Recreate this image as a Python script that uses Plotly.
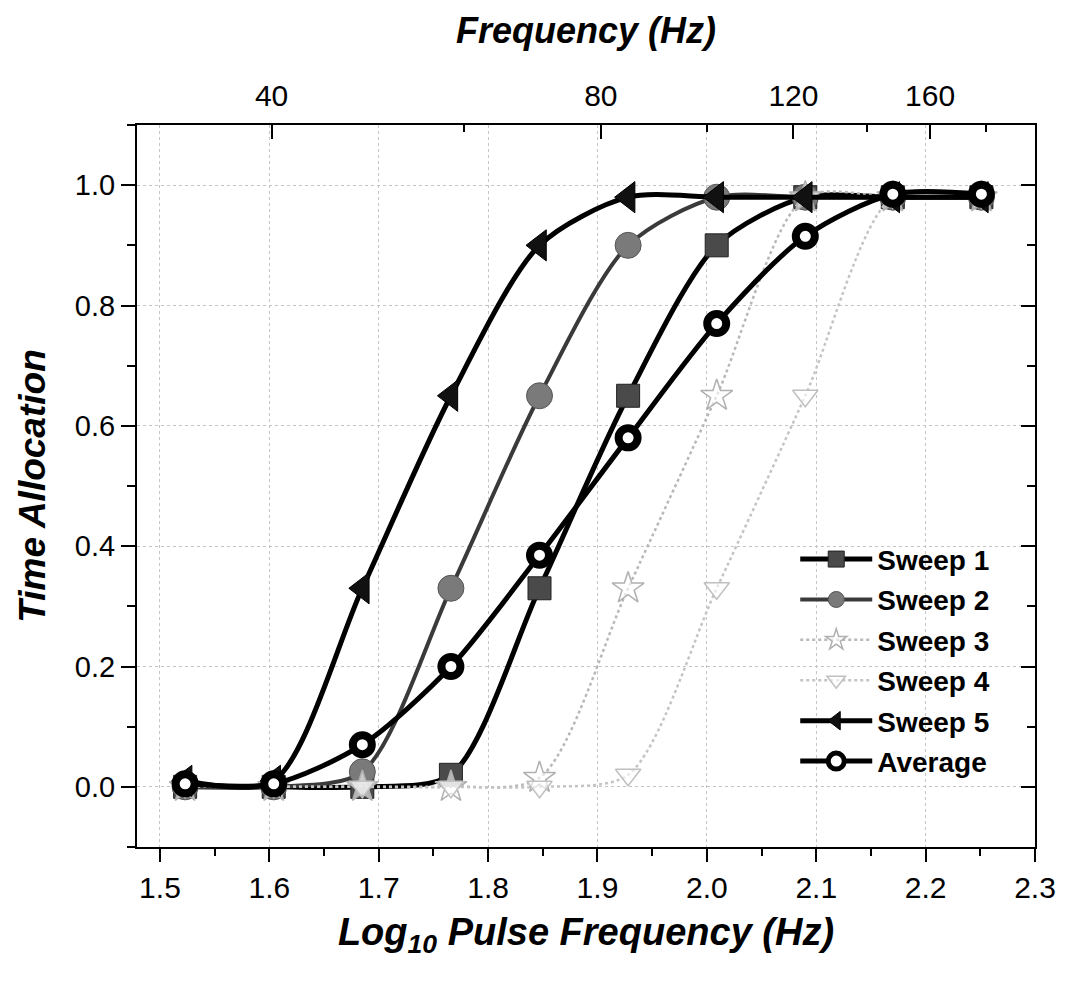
import numpy as np
import plotly.graph_objects as go

# ---- data ----
log_freq = [1.523, 1.604, 1.685, 1.766, 1.847, 1.928, 2.009, 2.090, 2.170, 2.251]
sweep1 = [0.0, 0.0, 0.0, 0.02, 0.33, 0.65, 0.90, 0.98, 0.98, 0.98]
sweep2 = [0.0, 0.0, 0.025, 0.33, 0.65, 0.90, 0.98, 0.98, 0.98, 0.98]
sweep3 = [0.0, 0.0, 0.0, 0.0, 0.015, 0.33, 0.65, 0.98, 0.98, 0.98]
sweep4 = [0.0, 0.0, 0.0, 0.0, 0.0, 0.02, 0.33, 0.65, 0.98, 0.98]
sweep5 = [0.01, 0.01, 0.33, 0.65, 0.90, 0.98, 0.98, 0.98, 0.98, 0.98]
average = [0.005, 0.005, 0.07, 0.20, 0.385, 0.58, 0.77, 0.915, 0.985, 0.985]

top_freqs = [40, 80, 120, 160]
top_minor_freqs = [60, 100, 140, 180]

FONT = "Arial, Liberation Sans, sans-serif"

fig = go.Figure()

def add(name, y, msym, msize, mcolor, mline_color, mline_w, lcolor, lwidth, dash="solid"):
    fig.add_trace(go.Scatter(
        x=log_freq, y=y, name=name, mode="lines+markers",
        line=dict(color=lcolor, width=lwidth, dash=dash, shape="spline", smoothing=0.8),
        marker=dict(symbol=msym, size=msize, color=mcolor,
                    line=dict(color=mline_color, width=mline_w)),
        legendgroup=name,
    ))

add("Sweep 1", sweep1, "square", 23, "#4a4a4a", "#222222", 1, "#000000", 5)
add("Sweep 2", sweep2, "circle", 26, "#7a7a7a", "#555555", 1, "#3a3a3a", 4)
add("Sweep 3", sweep3, "star", 24, "rgba(255,255,255,0.6)", "#b0b0b0", 1.5, "#b8b8b8", 2.5, "dot")
add("Sweep 4", sweep4, "triangle-down", 22, "rgba(255,255,255,0.6)", "#c0c0c0", 1.5, "#c4c4c4", 2.5, "dot")
add("Sweep 5", sweep5, "triangle-left", 27, "#111111", "#000000", 1, "#000000", 5)
add("Average", average, "circle", 19, "#ffffff", "#000000", 8, "#000000", 5)

# invisible trace to realise the top / right axes
fig.add_trace(go.Scatter(x=log_freq, y=average, xaxis="x2", yaxis="y2", mode="markers",
                         marker=dict(opacity=0), showlegend=False, hoverinfo="skip"))

xr = [1.479, 2.3]
yr = [-0.1, 1.1]
GRID = "#c4c4c4"

fig.update_layout(
    width=1069, height=984,
    margin=dict(l=137, r=34, t=125, b=137),
    paper_bgcolor="white", plot_bgcolor="white",
    font=dict(family=FONT, color="black"),
    showlegend=True,
    legend=dict(x=0.733, y=0.433, xanchor="left", yanchor="top",
                bgcolor="rgba(255,255,255,0)", borderwidth=0,
                font=dict(family=FONT, size=28, color="black", weight="bold"),
                itemwidth=72, traceorder="grouped", tracegroupgap=1),
    xaxis=dict(
        range=xr, tick0=1.5, dtick=0.1, tickformat=".1f",
        ticks="outside", ticklen=13, tickwidth=2, tickcolor="black",
        minor=dict(dtick=0.05, tick0=1.5, ticks="outside", ticklen=7, tickwidth=2, tickcolor="black", showgrid=False),
        showline=True, linewidth=2, linecolor="black",
        showgrid=True, gridcolor=GRID, griddash="dot", gridwidth=1,
        zeroline=False,
        tickfont=dict(family=FONT, size=30),
        title=dict(text="<b><i>Log<sub>10</sub> Pulse Frequency (Hz)</i></b>",
                   font=dict(family=FONT, size=38), standoff=15),
    ),
    yaxis=dict(
        range=yr, tick0=0, dtick=0.2, tickformat=".1f",
        ticks="outside", ticklen=14, tickwidth=2, tickcolor="black",
        minor=dict(dtick=0.1, tick0=0, ticks="outside", ticklen=8, tickwidth=2, tickcolor="black", showgrid=False),
        showline=True, linewidth=2, linecolor="black",
        showgrid=True, gridcolor=GRID, griddash="dot", gridwidth=1,
        zeroline=False,
        tickfont=dict(family=FONT, size=29),
        title=dict(text="<b><i>Time Allocation</i></b>",
                   font=dict(family=FONT, size=37), standoff=18),
    ),
    xaxis2=dict(
        overlaying="x", side="top", anchor="y", range=xr,
        tickmode="array", tickvals=list(np.log10(top_freqs)), ticktext=[str(f) for f in top_freqs],
        ticks="inside", ticklen=14, tickwidth=2, tickcolor="black",
        minor=dict(tickmode="array", tickvals=list(np.log10(top_minor_freqs)),
                   ticks="inside", ticklen=7, tickwidth=2, tickcolor="black", showgrid=False),
        showline=True, linewidth=2, linecolor="black", showgrid=False, zeroline=False,
        tickfont=dict(family=FONT, size=30), ticklabelstandoff=5,
        title=dict(text="<b><i>Frequency (Hz)</i></b>", font=dict(family=FONT, size=36), standoff=24),
    ),
    yaxis2=dict(
        overlaying="y", side="right", anchor="x", range=yr,
        tick0=0, dtick=0.2, ticks="inside", ticklen=14, tickwidth=2, tickcolor="black",
        minor=dict(dtick=0.1, tick0=0, ticks="inside", ticklen=8, tickwidth=2, tickcolor="black", showgrid=False),
        showticklabels=False, showline=True, linewidth=2, linecolor="black",
        showgrid=False, zeroline=False,
    ),
)

fig.write_html("out.html")
